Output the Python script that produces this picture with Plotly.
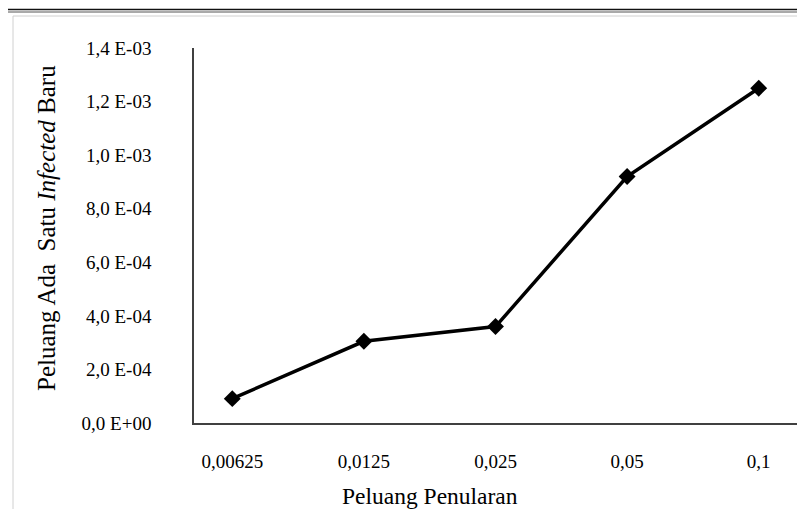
import plotly.graph_objects as go

categories = ["0,00625", "0,0125", "0,025", "0,05", "0,1"]
values = [9.1e-5, 3.05e-4, 3.6e-4, 9.2e-4, 1.25e-3]
ytick_vals = [0, 2e-4, 4e-4, 6e-4, 8e-4, 1.0e-3, 1.2e-3, 1.4e-3]
ytick_text = ["0,0 E+00", "2,0 E-04", "4,0 E-04", "6,0 E-04", "8,0 E-04",
              "1,0 E-03", "1,2 E-03", "1,4 E-03"]
x_title = "Peluang Penularan"
y_title = "Peluang Ada  Satu <i>Infected</i> Baru"

FONT = "Liberation Serif"
W, H = 805, 509
pl, pr, pt, pb = 186, 16, 40, 94

fig = go.Figure()
fig.add_trace(go.Scatter(
    x=categories, y=values, mode="lines+markers",
    line=dict(color="black", width=3.5),
    marker=dict(symbol="diamond", size=13, color="black"),
    showlegend=False,
))

fig.update_layout(
    width=W, height=H,
    margin=dict(l=pl, r=pr, t=pt, b=pb),
    paper_bgcolor="white", plot_bgcolor="white",
    font=dict(family=FONT, size=19, color="black"),
    xaxis=dict(
        type="category", showgrid=False, zeroline=False,
        showline=True, linecolor="#404040", linewidth=1.5,
        ticks="", ticklabelstandoff=20,
    ),
    yaxis=dict(
        range=[0, 1.4e-3], tickvals=ytick_vals, ticktext=ytick_text,
        showgrid=False, zeroline=False,
        showline=True, linecolor="#404040", linewidth=1.5,
        ticks="", ticklabelstandoff=37,
    ),
)

pw, ph = W - pl - pr, H - pt - pb
def px(x):
    return (x - pl) / pw
def py(y):
    return (H - pb - y) / ph

fig.add_annotation(text=x_title, xref="paper", yref="paper", x=px(422), y=py(488),
                   showarrow=False, font=dict(size=23.5, family=FONT, color="black"),
                   xanchor="center", yanchor="middle")
fig.add_annotation(text=y_title, xref="paper", yref="paper", x=px(38), y=py(220),
                   showarrow=False, textangle=-90, font=dict(size=25, family=FONT, color="black"),
                   xanchor="center", yanchor="middle")

fig.add_shape(type="line", xref="paper", yref="paper", x0=px(0), x1=px(W), y0=py(1.5), y1=py(1.5),
              line=dict(color="#111", width=1.5))
fig.add_shape(type="line", xref="paper", yref="paper", x0=px(0), x1=px(W), y0=py(4), y1=py(4),
              line=dict(color="#555", width=1))
fig.add_shape(type="line", xref="paper", yref="paper", x0=px(5), x1=px(801), y0=py(8), y1=py(8),
              line=dict(color="#d0d0d0", width=1))
fig.add_shape(type="line", xref="paper", yref="paper", x0=px(5), x1=px(5), y0=py(8), y1=py(H),
              line=dict(color="#d0d0d0", width=1))
fig.add_shape(type="line", xref="paper", yref="paper", x0=px(801), x1=px(801), y0=py(8), y1=py(H),
              line=dict(color="#d0d0d0", width=1))

fig.write_html("out.html")
